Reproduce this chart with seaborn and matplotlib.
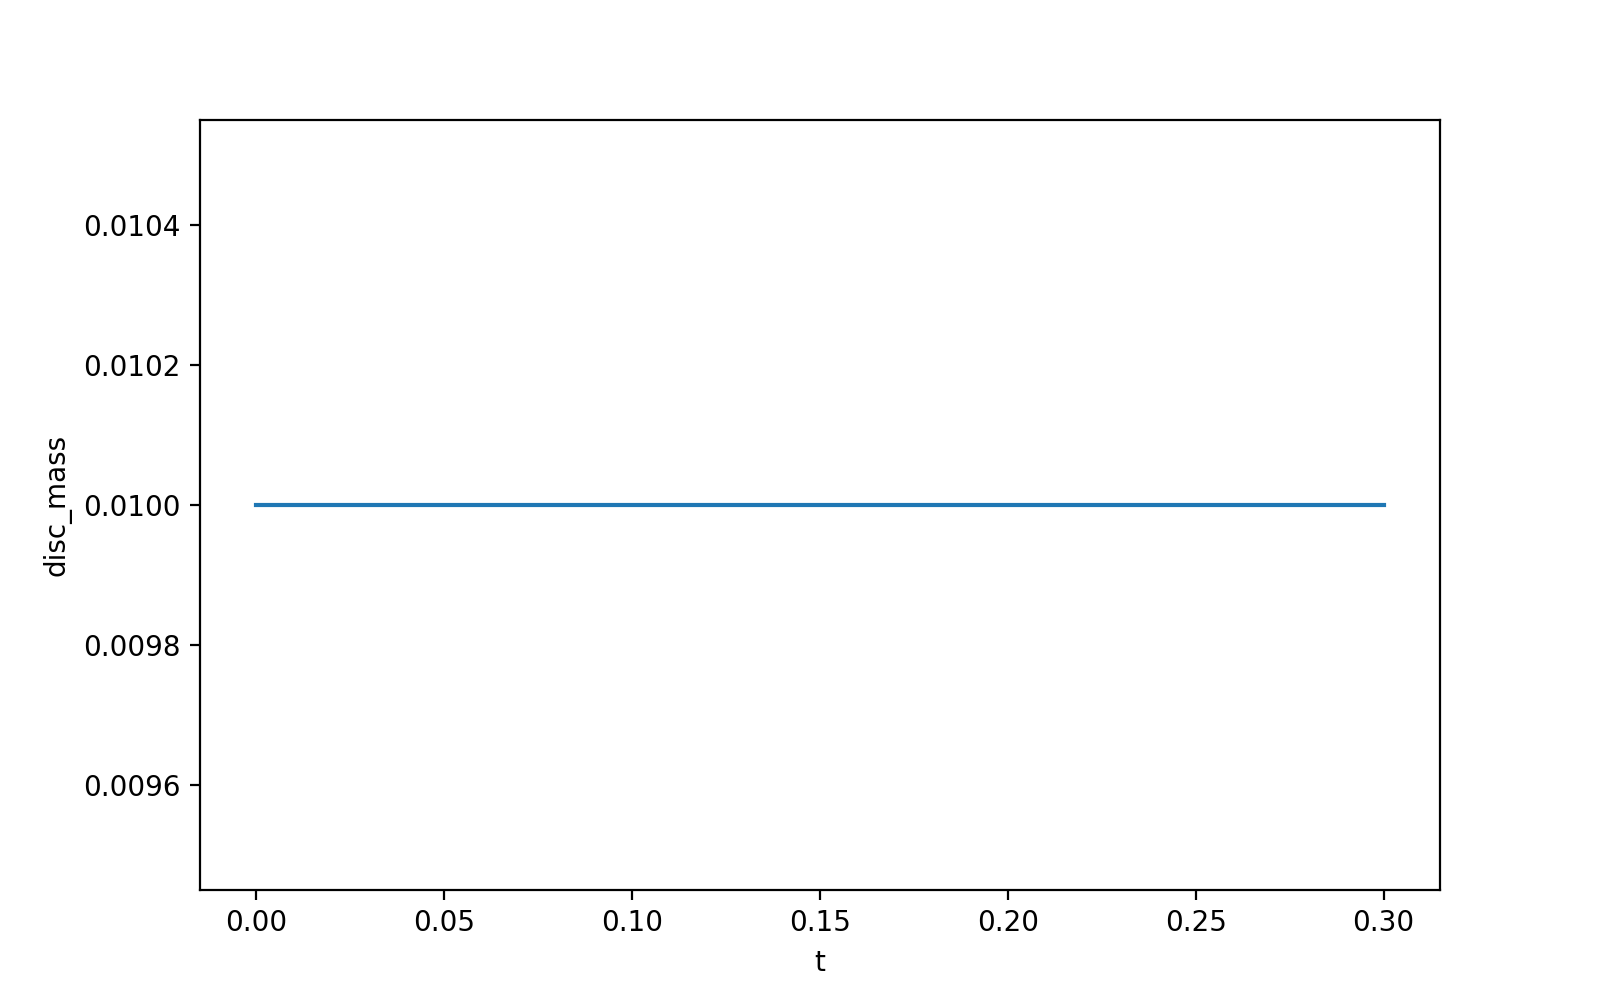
import matplotlib
matplotlib.use("Agg")
import matplotlib.pyplot as plt
import seaborn as sns
import pandas as pd

# time samples and disc mass (flat line)
t = [0.00, 0.05, 0.10, 0.15, 0.20, 0.25, 0.30]
disc_mass = [0.01, 0.01, 0.01, 0.01, 0.01, 0.01, 0.01]

df = pd.DataFrame({'t': t, 'disc_mass': disc_mass})

fig, ax = plt.subplots(figsize=(8, 5), dpi=200)
sns.lineplot(data=df, x='t', y='disc_mass', ax=ax, color='#1f77b4')
ax.set_xlabel('t')
ax.set_ylabel('disc_mass')

plt.savefig('out.png', dpi=200)
